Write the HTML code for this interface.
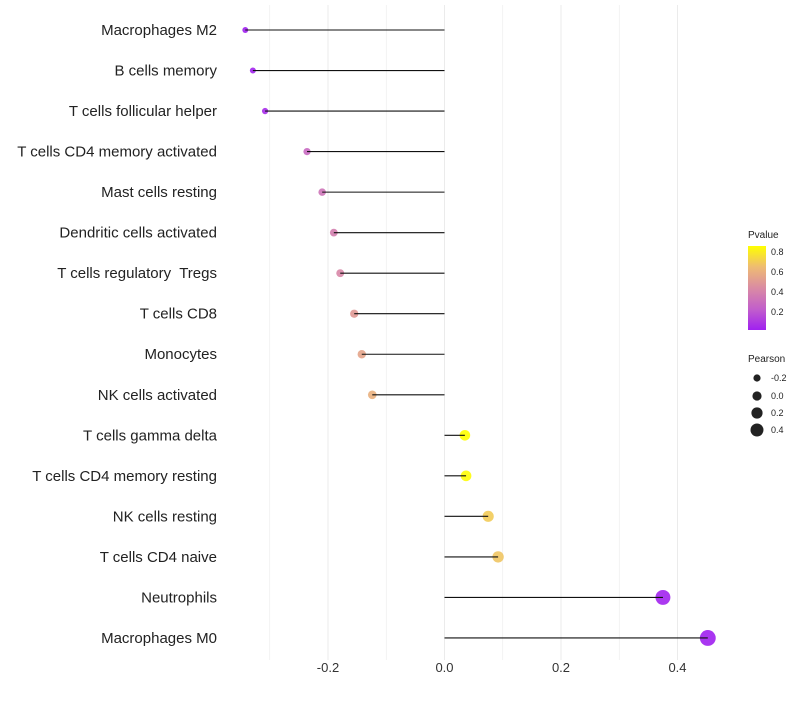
<!DOCTYPE html>
<html><head><meta charset="utf-8"><style>
body{margin:0;background:#fff;font-family:"Liberation Sans",sans-serif}
</style></head><body>
<svg id="chart" width="800" height="700" xmlns="http://www.w3.org/2000/svg">
<defs><linearGradient id="pg" x1="0" y1="1" x2="0" y2="0">
<stop offset="0" stop-color="#A020F0"/><stop offset="0.25" stop-color="#C25FCB"/><stop offset="0.5" stop-color="#DA8BA3"/><stop offset="0.75" stop-color="#EEBB73"/><stop offset="1" stop-color="#FFFF00"/></linearGradient></defs>
<g id="grid"></g><g id="marks"></g><g id="labels"></g>
<g font-size="9" fill="#222">
<text x="748" y="238" font-size="10">Pvalue</text>
<rect x="748" y="246" width="18" height="84" fill="url(#pg)"/>
<text x="771" y="255">0.8</text><text x="771" y="275">0.6</text><text x="771" y="295">0.4</text><text x="771" y="315">0.2</text>
</g>
<g font-size="9" fill="#222">
<text x="748" y="362" font-size="10">Pearson</text>
<circle cx="757" cy="378" r="3.6"/><text x="771" y="381">-0.2</text>
<circle cx="757" cy="396" r="4.6"/><text x="771" y="399">0.0</text>
<circle cx="757" cy="413" r="5.6"/><text x="771" y="416">0.2</text>
<circle cx="757" cy="430" r="6.5"/><text x="771" y="433">0.4</text>
</g>
</svg>
<script>
const categories=["Macrophages M2","B cells memory","T cells follicular helper","T cells CD4 memory activated","Mast cells resting","Dendritic cells activated","T cells regulatory  Tregs","T cells CD8","Monocytes","NK cells activated","T cells gamma delta","T cells CD4 memory resting","NK cells resting","T cells CD4 naive","Neutrophils","Macrophages M0"];
const pearson=[-0.342,-0.329,-0.308,-0.236,-0.210,-0.190,-0.179,-0.155,-0.142,-0.124,0.035,0.037,0.075,0.092,0.375,0.452];
const pvalue=[0.02,0.03,0.06,0.28,0.33,0.38,0.42,0.5,0.55,0.6,0.86,0.85,0.7,0.68,0.03,0.02];
const xTicks=[-0.2,0,0.2,0.4];
const xTickLabels=["-0.2","0.0","0.2","0.4"];
const NS="http://www.w3.org/2000/svg";
const xs=v=>444.5+v*582.5;
const ys=i=>30+i*40.53;
const stops=[[0,[160,32,240]],[0.25,[194,95,203]],[0.5,[218,139,163]],[0.75,[238,187,115]],[1,[255,255,0]]];
function col(p){let t=Math.max(0,Math.min(1,(p-0.02)/0.84));for(let k=1;k<stops.length;k++){if(t<=stops[k][0]){const a=stops[k-1],b=stops[k];const f=(t-a[0])/(b[0]-a[0]);return "rgb("+a[1].map((c,j)=>Math.round(c+(b[1][j]-c)*f)).join(",")+")";}}return "rgb(255,255,0)";}
function mk(t,a,p){const e=document.createElementNS(NS,t);for(const k in a)e.setAttribute(k,a[k]);p.appendChild(e);return e;}
const grid=document.getElementById('grid'),marks=document.getElementById('marks'),labels=document.getElementById('labels');
for(let v=-0.3;v<=0.41;v+=0.1){const l=mk('line',{x1:xs(v),x2:xs(v),y1:5,y2:660,stroke:'#ebebeb','stroke-width':Math.abs(Math.round(v*10))%2==0?1:0.6},grid);

}
xTicks.forEach((v,i)=>{const t=mk('text',{x:xs(v),y:672,'text-anchor':'middle','font-size':13,fill:'#333'},labels);t.textContent=xTickLabels[i];

});
categories.forEach((c,i)=>{const y=ys(i);
const t=mk('text',{x:217,y:y+5,'text-anchor':'end','font-size':15,fill:'#222',style:'white-space:pre'},labels);t.textContent=c;


const r=Math.max(2,5.1+6.3*pearson[i]);
const ci=mk('circle',{cx:xs(pearson[i]),cy:y,r:r,fill:col(pvalue[i]),'fill-opacity':0.9},marks);


const l=mk('line',{x1:xs(0),x2:xs(pearson[i]),y1:y,y2:y,stroke:'#111','stroke-width':1.1},marks);

});
</script>
</body></html>
